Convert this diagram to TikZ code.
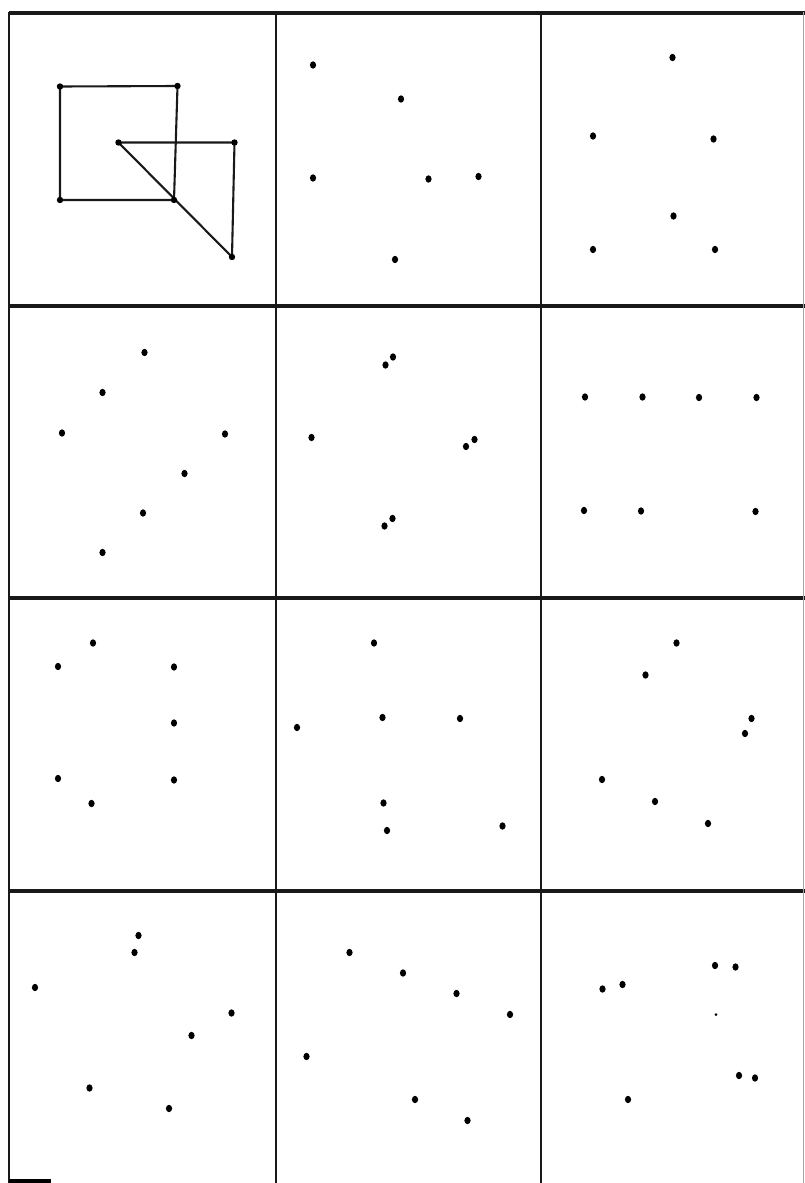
\documentclass[tikz,border=0pt]{standalone}
\usetikzlibrary{shapes.geometric}
\begin{document}
\begin{tikzpicture}[x=1pt,y=-1pt,
  pt/.style={ellipse,fill=black,draw=none,inner sep=0pt,minimum width=6.2pt,minimum height=7.4pt},
  smallpt/.style={circle,fill=black,draw=none,inner sep=0pt,minimum size=3pt},
  hline/.style={line width=3.2pt,black!90},
  vline/.style={line width=2.5pt,black!90},
  figline/.style={line width=2.1pt,black!90}]
\useasboundingbox (0,0) rectangle (805,1183);
% grid
\draw[hline] (9,13) -- (805,13);
\draw[hline] (9,306) -- (805,306);
\draw[hline] (9,598) -- (805,598);
\draw[hline] (9,891) -- (805,891);
\draw[vline] (9,11.5) -- (9,1183);
\draw[vline] (276,11.5) -- (276,1183);
\draw[vline] (541,11.5) -- (541,1183);
\draw[line width=1pt,black!35] (803.5,12) -- (803.5,1183);
\draw[line width=3.5pt] (9,1181) -- (51,1181);
% cell 1: square and triangle
\coordinate (sA) at (60,86.5);
\coordinate (sB) at (177.5,86);
\coordinate (sC) at (174,200);
\coordinate (sD) at (60,200);
\coordinate (tA) at (118.5,142.5);
\coordinate (tB) at (234.5,142.5);
\coordinate (tC) at (232,257);
\draw[figline] (sA) -- (sB) -- (sC) -- (sD) -- cycle;
\draw[figline] (tA) -- (tB) -- (tC) -- cycle;
\foreach \c in {sA,sB,sC,sD,tA,tB,tC} \fill (\c) circle (3.2pt);
% cell 2
\node[pt] (b1) at (313,65) {};
\node[pt] (b2) at (401,99) {};
\node[pt] (b3) at (313,178) {};
\node[pt] (b4) at (428.5,179) {};
\node[pt] (b5) at (478.5,176.5) {};
\node[pt] (b6) at (395,259.5) {};
% cell 3
\node[pt] (c1) at (672.5,57.5) {};
\node[pt] (c2) at (593,136) {};
\node[pt] (c3) at (713.5,139) {};
\node[pt] (c4) at (673.5,216) {};
\node[pt] (c5) at (593,249.5) {};
\node[pt] (c6) at (715,249.5) {};
% cell 4
\node[pt] (d1) at (144.5,352.5) {};
\node[pt] (d2) at (102.5,392.5) {};
\node[pt] (d3) at (62,433) {};
\node[pt] (d4) at (225,434) {};
\node[pt] (d5) at (184.5,473.5) {};
\node[pt] (d6) at (143,513) {};
\node[pt] (d7) at (102.5,552.5) {};
% cell 5
\node[pt] (e1) at (393,357) {};
\node[pt] (e2) at (385.5,365) {};
\node[pt] (e3) at (311.5,437.5) {};
\node[pt] (e4) at (474.5,439.5) {};
\node[pt] (e5) at (466,446.5) {};
\node[pt] (e6) at (392.5,518.5) {};
\node[pt] (e7) at (384.5,526) {};
% cell 6
\node[pt] (f1) at (585,397) {};
\node[pt] (f2) at (642.5,397) {};
\node[pt] (f3) at (699,397.5) {};
\node[pt] (f4) at (756.5,397.5) {};
\node[pt] (f5) at (584,510.5) {};
\node[pt] (f6) at (641,511) {};
\node[pt] (f7) at (755.5,511.5) {};
% cell 7
\node[pt] (g1) at (93,643) {};
\node[pt] (g2) at (58,666.5) {};
\node[pt] (g3) at (174,667) {};
\node[pt] (g4) at (174,723) {};
\node[pt] (g5) at (58,778.5) {};
\node[pt] (g6) at (174,780) {};
\node[pt] (g7) at (91.5,803.5) {};
% cell 8
\node[pt] (h1) at (374,643) {};
\node[pt] (h2) at (382.5,717.5) {};
\node[pt] (h3) at (460,718.5) {};
\node[pt] (h4) at (297,727.5) {};
\node[pt] (h5) at (383.5,803) {};
\node[pt] (h6) at (387,830.5) {};
\node[pt] (h7) at (502.5,826) {};
% cell 9
\node[pt] (i1) at (676.5,643) {};
\node[pt] (i2) at (645.5,675) {};
\node[pt] (i3) at (751.5,718.5) {};
\node[pt] (i4) at (745,733.5) {};
\node[pt] (i5) at (602,779.5) {};
\node[pt] (i6) at (655,801.5) {};
\node[pt] (i7) at (708,823.5) {};
% cell 10
\node[pt] (j1) at (138.5,935.5) {};
\node[pt] (j2) at (134.5,952.5) {};
\node[pt] (j3) at (35,987.5) {};
\node[pt] (j4) at (231.5,1013) {};
\node[pt] (j5) at (191.5,1035.5) {};
\node[pt] (j6) at (89.5,1088) {};
\node[pt] (j7) at (169,1108.5) {};
% cell 11
\node[pt] (k1) at (349.5,952.5) {};
\node[pt] (k2) at (403,973) {};
\node[pt] (k3) at (456.5,993.5) {};
\node[pt] (k4) at (510,1014.5) {};
\node[pt] (k5) at (306.5,1056.5) {};
\node[pt] (k6) at (415,1099.5) {};
\node[pt] (k7) at (467.5,1120.5) {};
% cell 12
\node[pt] (l1) at (715,965.5) {};
\node[pt] (l2) at (735.5,967) {};
\node[pt] (l3) at (602.5,989) {};
\node[pt] (l4) at (622.5,984.5) {};
\node[smallpt] (l5) at (716,1014.5) {};
\node[pt] (l6) at (739,1075.5) {};
\node[pt] (l7) at (755,1078) {};
\node[pt] (l8) at (628,1099.5) {};
\end{tikzpicture}
\end{document}
